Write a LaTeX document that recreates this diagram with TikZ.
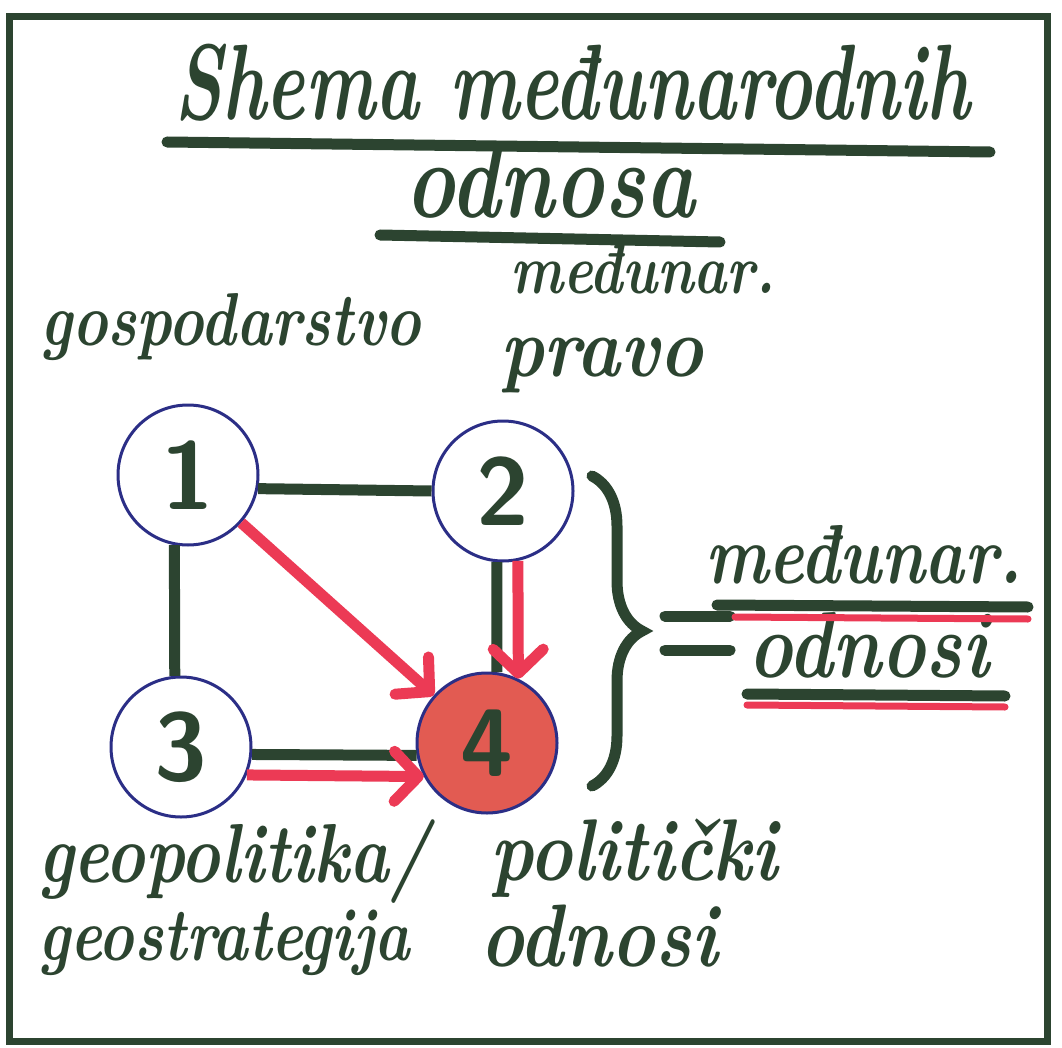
\documentclass[tikz,border=0pt]{standalone}
\usepackage{graphicx}
\usetikzlibrary{arrows.meta,decorations.pathreplacing}
\definecolor{inkGreen}{HTML}{2C4430}
\definecolor{inkBlue}{HTML}{2B2E86}
\definecolor{inkRed}{HTML}{EC3A55}
\definecolor{fillRed}{HTML}{E25B52}
\newcommand{\handfont}[1]{\fontsize{#1}{#1}\selectfont\bfseries\itshape}
\newcommand{\tall}[2][1.25]{\scalebox{1}[#1]{#2}}

\begin{document}
\begin{tikzpicture}[x=1pt,y=-1pt,
  hand/.style={text=inkGreen,inner sep=0pt,anchor=base west},
  ring/.style={circle,draw=inkBlue,line width=3pt,minimum size=140pt,inner sep=0pt,
    text=inkGreen,font=\fontsize{96}{96}\selectfont\sffamily\bfseries},
  ink/.style={draw=inkGreen,line width=11pt,line cap=round},
  link/.style={draw=inkGreen,line width=11pt},
  redarrow/.style={draw=inkRed,line width=11pt,-{Straight Barb[length=24pt,width=50pt,round]}}]
  \fill[white] (0,0) rectangle (1062,1048);
  \useasboundingbox (0,0) rectangle (1062,1048);
  \draw[draw=inkGreen,line width=7pt] (9,17) rectangle (1047,1041);

  % title
  \node[hand,anchor=base,font=\handfont{74}] (title) at (572,120) {\tall[1.45]{Shema međunarodnih}};
  \node[hand,anchor=base,font=\handfont{84}] (titleb) at (550,218) {\tall[1.3]{odnosa}};
  \draw[ink] (167,142) -- (990,152);
  \draw[ink] (380,235) -- (720,242);

  % circles
  \node[ring] (n1) at (188,475) {1};
  \node[ring] (n2) at (503,491) {2};
  \node[ring] (n3) at (181,747) {3};
  \node[ring,fill=fillRed] (n4) at (487,743) {4};

  \draw[link] (n1.-11) -- (n2.180);
  \draw[link] (n1.-101) -- (n3.95);
  \draw[link] (n2.-95) -- (n4.82);
  \draw[link] (n3.-6) -- (n4.190);
  \draw[redarrow] (n1) -- (n4);
  \draw[redarrow] (n2.-78) -- (n4.64);
  \draw[redarrow] (n3.-23) -- (n4.208);

  % labels
  \node[hand,font=\handfont{60}] (econ) at (40,345) {\tall{gospodarstvo}};
  \node[hand,font=\handfont{56}] (lawa) at (510,294) {\tall{međunar.}};
  \node[hand,font=\handfont{74}] (lawb) at (500,376) {\tall[1.15]{pravo}};
  \node[hand,font=\handfont{67}] (geoa) at (38,882) {\tall{geopolitika/}};
  \node[hand,font=\handfont{60}] (geob) at (38,960) {\tall{geostrategija}};
  \node[hand,font=\handfont{73}] (pola) at (490,880) {\tall[1.2]{politički}};
  \node[hand,font=\handfont{74}] (polb) at (480,966) {\tall[1.2]{odnosi}};

  % brace and result
  \draw[ink,decorate,decoration={brace,amplitude=50pt}] (592,476) -- (592,786);
  \draw[ink] (665,616) -- (730,616);
  \draw[ink] (665,650) -- (730,650);
  \node[hand,font=\handfont{67}] (relsa) at (705,583) {\tall{međunar.}};
  \node[hand,font=\handfont{75}] (relsb) at (748,677) {\tall{odnosi}};
  \draw[ink] (717,605) -- (1028,607);
  \draw[draw=inkRed,line width=7pt,line cap=round] (735,617) -- (1028,619);
  \draw[ink] (747,694) -- (1005,696);
  \draw[draw=inkRed,line width=7pt,line cap=round] (747,705) -- (1005,707);
\end{tikzpicture}
\end{document}
